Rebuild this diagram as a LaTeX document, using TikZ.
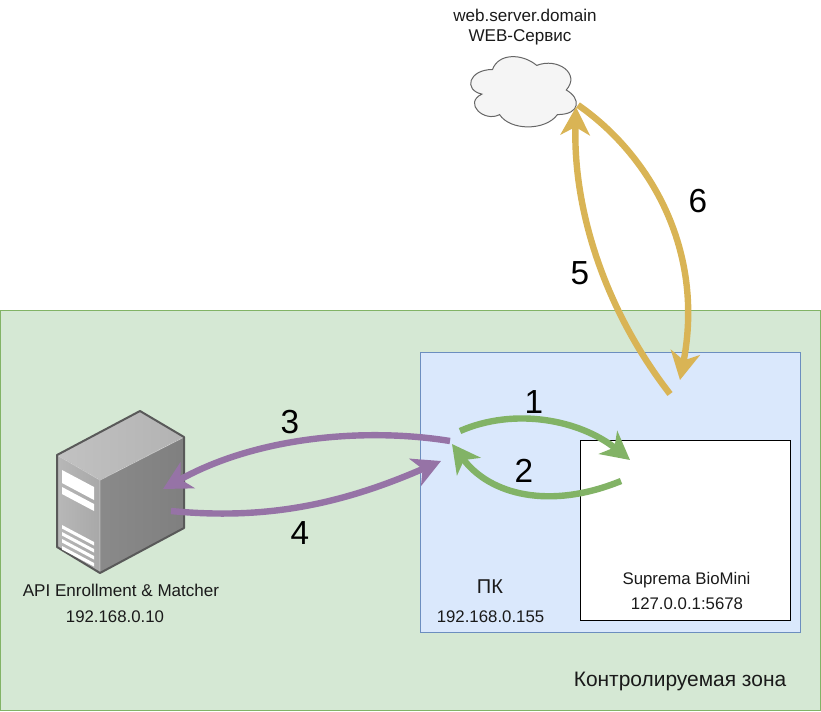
\documentclass[tikz,border=0pt]{standalone}
\usepackage{fontspec}
\setmainfont{Liberation Sans}
\usetikzlibrary{arrows.meta}

\definecolor{zonefill}{HTML}{D5E8D4}
\definecolor{zoneline}{HTML}{82B366}
\definecolor{pcfill}{HTML}{DAE8FC}
\definecolor{pcline}{HTML}{6C8EBF}
\definecolor{greenflow}{HTML}{82B366}
\definecolor{purpleflow}{HTML}{9673A6}
\definecolor{goldflow}{HTML}{D9B455}
\definecolor{labelcolor}{HTML}{1A1A1A}

\tikzset{
    area/.style={draw, anchor=north west, inner sep=0pt, line width=0.75pt},
    flow/.style={line width=4.8pt, -{Stealth[length=21pt, width=22pt, inset=6pt]}},
    caption/.style={text=labelcolor, inner sep=0pt, font=\fontsize{12.6}{15}\selectfont},
    number/.style={text=black, inner sep=0pt, font=\fontsize{25}{30}\selectfont},
}

\begin{document}
\begin{tikzpicture}[x=0.75pt, y=-0.75pt]
    \useasboundingbox (0, 0) rectangle (821, 711);

    \node [area, fill=zonefill, draw=zoneline, minimum width=615pt, minimum height=300pt]
        (zone) at (0, 310) {};
    \node [area, fill=pcfill, draw=pcline, minimum width=285pt, minimum height=210pt]
        (pc) at (420, 352) {};
    \node [area, fill=white, draw=black, minimum width=157.5pt, minimum height=135pt]
        (biomini) at (580, 440) {};

    \draw [fill=black!4, draw=black!60, line width=0.75pt]
        (492.5, 69.5)
        .. controls (468.9, 69.5) and (463, 90) .. (481.9, 94.1)
        .. controls (463, 103.1) and (484.2, 122.8) .. (499.6, 114.6)
        .. controls (510.2, 131) and (545.6, 131) .. (557.4, 114.6)
        .. controls (581, 114.6) and (581, 98.2) .. (566.25, 90)
        .. controls (581, 73.6) and (557.4, 57.2) .. (536.75, 65.4)
        .. controls (522, 53.1) and (498.4, 53.1) .. (492.5, 69.5)
        -- cycle;

    \fill [left color=black!24, right color=black!30]
        (57, 455) -- (140, 411) -- (184, 437) -- (100, 480) -- cycle;
    \fill [left color=black!46, right color=black!50]
        (100, 480) -- (184, 437) -- (184, 528) -- (100, 573) -- cycle;
    \fill [left color=black!28, right color=black!34]
        (57, 455) -- (100, 480) -- (100, 573) -- (57, 547) -- cycle;
    \draw [white!80!black, line width=0.6pt]
        (57, 455) -- (100, 480) -- (184, 437)
        (100, 480) -- (100, 573);
    \draw [black!65, line width=1.5pt, line join=round]
        (57, 455) -- (140, 411) -- (184, 437) -- (184, 528)
        -- (100, 573) -- (57, 547) -- cycle;
    \fill [white]
        (62, 470) -- (94, 487) -- (94, 500) -- (62, 483) -- cycle
        (62, 487) -- (94, 504) -- (94, 511) -- (62, 494) -- cycle;
    \foreach \y in {525, 532, 539, 546} {
        \fill [white]
            (62, \y) -- (94, \y + 17) -- (94, \y + 20.5) -- (62, \y + 3.5) -- cycle;
    }

    \coordinate (a) at (460, 431);
    \coordinate (b) at (630, 460);
    \coordinate (c) at (621, 481);
    \coordinate (d) at (452, 444);
    \coordinate (e) at (450, 441);
    \coordinate (f) at (163, 489);
    \coordinate (g) at (171, 511);
    \coordinate (h) at (441, 461);
    \coordinate (i) at (670, 394);
    \coordinate (j) at (576, 107);
    \coordinate (k) at (578, 105);
    \coordinate (l) at (680, 380);

    \draw [flow, greenflow] (a) .. controls (515, 407) and (580, 420) .. (b);
    \draw [flow, greenflow] (c) .. controls (550, 510) and (490, 495) .. (d);
    \draw [flow, purpleflow] (e) .. controls (370, 428) and (260, 435) .. (f);
    \draw [flow, purpleflow] (g) .. controls (265, 520) and (340, 505) .. (h);
    \draw [flow, goldflow] (i) .. controls (605, 310) and (573, 210) .. (j);
    \draw [flow, goldflow] (k) .. controls (650, 155) and (705, 250) .. (l);

    \foreach \n/\x/\y in {1/534/402, 2/524/471, 3/290/422, 4/300/533, 5/580/273, 6/698/201} {
        \node [number] (num\n) at (\x, \y) {\n};
    }

    \node [caption, font=\fontsize{12.8}{15}\selectfont] (webname) at (525, 15) {web.server.domain};
    \node [caption, font=\fontsize{12.8}{15}\selectfont] (webtitle) at (520, 37) {WEB-Сервис};
    \node [caption, font=\fontsize{12.8}{15}\selectfont] (servername) at (121, 590) {API Enrollment \& Matcher};
    \node [caption] (serverip) at (115, 617) {192.168.0.10};
    \node [caption, font=\fontsize{15}{18}\selectfont] (pcname) at (490, 587) {ПК};
    \node [caption] (pcip) at (490.5, 617) {192.168.0.155};
    \node [caption] (bioname) at (686.5, 580) {Suprema BioMini};
    \node [caption] (bioip) at (687, 604) {127.0.0.1:5678};
    \node [caption, font=\fontsize{15.7}{18}\selectfont] (zonename) at (680, 681) {Контролируемая зона};
\end{tikzpicture}
\end{document}
